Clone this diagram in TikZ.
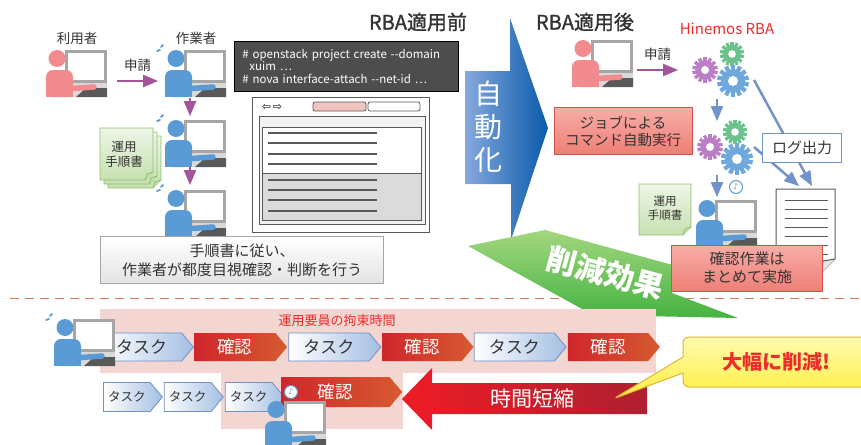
\documentclass[tikz,border=0pt]{standalone}
\usepackage{fontspec}
\setmainfont{Noto Sans CJK JP}
\newfontfamily\headfont[FakeBold=1.2]{Noto Sans CJK JP}
\newfontfamily\symfont{DejaVu Sans}
\usetikzlibrary{shapes.symbols, shapes.callouts, arrows, positioning}

\definecolor{inkgray}{HTML}{333333}
\definecolor{userpink}{HTML}{F28B8E}
\definecolor{staffblue}{HTML}{5B9BD5}
\definecolor{pcgray}{HTML}{A6A6A6}
\definecolor{deskgray}{HTML}{595959}
\definecolor{applyviolet}{HTML}{A3559A}
\definecolor{flowblue}{HTML}{7193C9}
\definecolor{boxred}{HTML}{D0534A}
\definecolor{salmon}{HTML}{F7ADA7}
\definecolor{salmondark}{HTML}{EE7F76}
\definecolor{memogreen}{HTML}{EEF6E6}
\definecolor{memogreendark}{HTML}{C6E0B1}
\definecolor{memoedge}{HTML}{8DC06F}
\definecolor{taskblue}{HTML}{A4BFE3}
\definecolor{taskedge}{HTML}{7092C7}
\definecolor{checkred}{HTML}{D0262B}
\definecolor{checkorange}{HTML}{D65A30}
\definecolor{holdpink}{HTML}{F3D5D1}
\definecolor{gearviolet}{HTML}{BA7FC4}
\definecolor{geargreen}{HTML}{6CC28C}
\definecolor{gearblue}{HTML}{6FA8DC}
\definecolor{cutgreen}{HTML}{45B342}
\definecolor{cutgreenlight}{HTML}{A3D67F}
\definecolor{autolight}{HTML}{85A9DC}
\definecolor{autodark}{HTML}{0A5AAC}
\definecolor{hinemosred}{HTML}{EE2C2C}
\definecolor{shortred}{HTML}{EE1C25}
\definecolor{shortdark}{HTML}{AE2030}
\definecolor{consolegray}{HTML}{4D4D4D}
\definecolor{tabpink}{HTML}{F2C4C0}
\definecolor{calloutedge}{HTML}{E0B43A}
\definecolor{calloutlight}{HTML}{FFFBB0}
\definecolor{calloutyellow}{HTML}{FFEE3A}
\definecolor{dashred}{HTML}{D9775F}

\tikzstyle{heading} = [font=\headfont\fontsize{20}{24}\selectfont]
\tikzstyle{caption} = [font=\fontsize{13.5}{16}\selectfont]
\tikzstyle{applyarrow} = [line width=2.5pt, draw=applyviolet, ->, >=triangle 45]
\tikzstyle{flowarrow} = [line width=2.5pt, draw=flowblue, ->, >=triangle 45]
\tikzstyle{redbox} = [rectangle, draw=boxred, line width=1pt, top color=salmon, bottom color=salmondark, align=center, font=\fontsize{14.5}{17}\selectfont]
\tikzstyle{task} = [signal, signal to=east, signal pointer angle=100, draw=taskedge, line width=0.8pt, left color=white, right color=taskblue, inner sep=0pt, minimum height=28pt, font=\fontsize{17}{17}\selectfont]
\tikzstyle{smalltask} = [task, minimum height=29pt, minimum width=59pt, font=\fontsize{12.5}{12.5}\selectfont]
\tikzstyle{check} = [signal, signal to=east, signal pointer angle=100, left color=checkred, right color=checkorange, text=white, inner sep=0pt, minimum height=28pt, font=\fontsize{17.5}{17.5}\selectfont]

\tikzset{
  pics/pcuser/.style={code={
    % monitor and desk
    \fill[pcgray] (19,0) rectangle (61,33);
    \fill[white] (22,3) rectangle (58,30);
    \fill[gray!30] (24,33) rectangle (61,47);
    \fill[deskgray] (40,38) -- (61,38) -- (61,47) -- (30,47) -- cycle;
    % person
    \fill[#1] (11,8.5) circle (8.5pt);
    \fill[#1, rounded corners=7pt] (0,20) rectangle (27,47);
    \fill[#1] (0,35) rectangle (27,47);
    \draw[#1, line width=5.5pt, line cap=round] (20,39) -- (48,37);
  }},
  pics/sweat/.style={code={
    \draw[staffblue, line width=1.8pt, line cap=round] (-8,1) -- (-5,0);
    \draw[staffblue, line width=1.8pt, line cap=round] (-4,-3) -- (-2,-5);
  }},
  pics/gear/.style={code={
    \fill[#1] (0,0) circle (9.5pt);
    \foreach \i in {0,...,13}
      \fill[#1, rotate=\i*360/14] (-1.7,8) rectangle (1.7,12.8);
    \fill[white] (0,0) circle (4pt);
  }},
  pics/tone/.style={code={
    \draw[staffblue, fill=white, line width=1pt] (0,0) circle (6.5pt);
    \node[text=staffblue, font=\symfont\fontsize{8}{8}\selectfont, inner sep=0pt] at (0,0) {♪};
  }}
}

\begin{document}
\begin{tikzpicture}[x=1pt, y=-1pt, every node/.style={text=inkgray}]
\useasboundingbox (0,0) rectangle (861,444);

% ---- before RBA
\node[heading] (before) at (418,22) {RBA適用前};
\node[caption] (requester) at (77,38) {利用者};
\node[caption] (operator) at (196,38) {作業者};
\pic at (46,50) {pcuser=userpink};
\pic at (165,50) {pcuser=staffblue};
\pic at (165,50) {sweat};
\pic at (165,120) {pcuser=staffblue};
\pic at (165,120) {sweat};
\pic at (165,190) {pcuser=staffblue};
\pic at (165,190) {sweat};

\coordinate (reqA) at (117,81);
\coordinate (reqB) at (158,81);
\coordinate (stepA) at (190,98);
\coordinate (stepB) at (190,116);
\coordinate (stepC) at (190,167);
\coordinate (stepD) at (190,185);
\draw[applyarrow] (reqA) -- node[above=5pt, caption] (reqlbl) {申請} (reqB);
\draw[applyarrow] (stepA) -- (stepB);
\draw[applyarrow] (stepC) -- (stepD);

% manual stack
\foreach \d in {8,4,0} {
  \draw[memoedge, line width=0.8pt, top color=memogreen, bottom color=memogreendark]
    (100+\d,128+\d) -- (153+\d,128+\d) -- (153+\d,172+\d) -- (145+\d,180+\d) -- (100+\d,180+\d) -- cycle;
  \draw[memoedge, line width=0.8pt, fill=memogreendark] (145+\d,180+\d) -- (147+\d,174+\d) -- (153+\d,172+\d);
}
\node[align=center, font=\fontsize{12.5}{15}\selectfont] (manualA) at (124,154) {運用\\手順書};

% console
\node[anchor=north west, fill=consolegray, draw=black, line width=0.8pt, minimum width=224pt, minimum height=50pt,
      text width=208pt, align=left, text=white, inner xsep=8pt, font=\fontsize{11.5}{12.5}\selectfont] (cmd) at (234,41)
  {\# openstack project create -{}-domain\\\hspace{7pt}xuim …\\\# nova interface-attach -{}-net-id …};

% browser window
\draw[deskgray, fill=white, line width=1pt] (252,97) rectangle (429,232);
\node[text=black, font=\symfont\fontsize{11}{11}\selectfont, inner sep=0pt] (navi) at (272,107) {⇦\,⇨};
\draw[deskgray, fill=tabpink, line width=0.8pt, rounded corners=2pt] (313,102) rectangle (366,111);
\draw[deskgray, fill=white, line width=0.8pt, rounded corners=2pt] (368,102) rectangle (420,111);
\draw[deskgray, fill=gray!10, line width=0.8pt] (259,116) rectangle (425,224);
\fill[white] (262,127) rectangle (421,173);
\fill[gray!28] (262,173) rectangle (421,220);
\draw[deskgray, line width=0.8pt] (262,127) rectangle (421,220) (262,173) -- (421,173);
\foreach \y in {133,143,154,164,180,190,200,211}
  \draw[deskgray, line width=1.2pt] (268,\y) -- (377,\y);

\node[draw=gray!70, line width=1pt, top color=white, bottom color=gray!22, minimum width=283pt, minimum height=47pt,
      align=center, font=\fontsize{15}{19}\selectfont] (routine) at (242,260) {手順書に従い、\\作業者が都度目視確認・判断を行う};

% ---- automation arrow
\shade[left color=autolight, right color=autodark]
  (465,71) -- (510,71) -- (510,18) -- (548,128) -- (511,240) -- (511,184) -- (465,184) -- cycle;
\node[text=white, align=center, font=\fontsize{28}{33}\selectfont] (auto) at (488,127) {自\\動\\化};

% ---- after RBA
\node[heading] (after) at (585,22) {RBA適用後};
\node[text=hinemosred, font=\fontsize{15}{18}\selectfont] (hinemos) at (727,29) {Hinemos RBA};
\pic at (572,40) {pcuser=userpink};
\coordinate (reqC) at (637,70);
\coordinate (reqD) at (678,70);
\draw[applyarrow] (reqC) -- node[above=5pt, caption] (reqlbl2) {申請} (reqD);

\pic at (705,70) {gear=gearviolet};
\pic[scale=0.95] at (732,54) {gear=geargreen};
\pic[scale=1.25] at (733,81) {gear=gearblue};
\pic at (710,147) {gear=gearviolet};
\pic[scale=0.95] at (735,132) {gear=geargreen};
\pic[scale=1.25] at (737,159) {gear=gearblue};

\coordinate (runA) at (717,99);
\coordinate (runB) at (717,121);
\coordinate (runC) at (717,175);
\coordinate (runD) at (717,197);
\coordinate (logA) at (754,80);
\coordinate (logB) at (812,186);
\coordinate (logC) at (754,147);
\coordinate (logD) at (799,186);
\draw[flowarrow] (runA) -- (runB);
\draw[flowarrow] (runC) -- (runD);
\draw[flowarrow] (logA) -- (logB);
\draw[flowarrow] (logC) -- (logD);

\node[draw=flowblue, fill=white, line width=1pt, minimum width=79pt, minimum height=29pt,
      font=\fontsize{15}{18}\selectfont] (log) at (802,148) {ログ出力};

\node[redbox, minimum width=138pt, minimum height=47pt] (jobs) at (623,131) {ジョブによる\\コマンド自動実行};

% log file
\draw[deskgray, fill=white, line width=1pt] (776,189) -- (835,189) -- (835,259) -- (821,273) -- (776,273) -- cycle;
\draw[deskgray, fill=gray!20, line width=1pt] (821,273) -- (823,261) -- (835,259);
\foreach \y in {200,209,218,227,236,245,254}
  \draw[deskgray, line width=1pt] (785,\y) -- (828,\y);

% manual
\draw[memoedge, line width=0.8pt, top color=memogreen, bottom color=memogreendark]
  (639,184) -- (691,184) -- (691,227) -- (683,235) -- (639,235) -- cycle;
\draw[memoedge, line width=0.8pt, fill=memogreendark] (683,235) -- (685,229) -- (691,227);
\node[align=center, font=\fontsize{11.5}{14}\selectfont] (manualB) at (665,208) {運用\\手順書};

\pic at (696,200) {pcuser=staffblue};
\pic at (736,187) {tone};

% ---- divider
\draw[dashred, line width=1pt, dash pattern=on 9pt off 6pt] (10,298) -- (861,298);

% reduction
\shade[top color=cutgreenlight, bottom color=cutgreen]
  (468,246) -- (545,230) -- (680,267) -- (672,293) -- (738,318) -- (593,315) -- cycle;
\node[rotate=-15, text=white, font=\bfseries\fontsize{30}{30}\selectfont] (cut) at (605,273) {削減効果};

\node[redbox, minimum width=151pt, minimum height=46pt, font=\fontsize{15}{18}\selectfont] (batch) at (747,268) {確認作業は\\まとめて実施};

% ---- time line
\fill[holdpink] (100,309) rectangle (656,373);
\fill[holdpink] (221,373) rectangle (403,429);
\node[text=hinemosred, font=\fontsize{13}{15}\selectfont] (hold) at (337,321) {運用要員の拘束時間};

\node[task, anchor=west, minimum width=92pt] (taskA) at (101,347) {タスク};
\node[check, right=0pt of taskA, minimum width=93pt] (checkA) {確認};
\node[task, right=1pt of checkA, minimum width=92pt] (taskB) {タスク};
\node[check, right=1pt of taskB, minimum width=91pt] (checkB) {確認};
\node[task, right=0pt of checkB, minimum width=92pt] (taskC) {タスク};
\node[check, right=1pt of taskC, minimum width=92pt] (checkC) {確認};
\pic at (54,319) {pcuser=staffblue};
\pic at (54,319) {sweat};

\node[smalltask, anchor=west] (quickA) at (103,397) {タスク};
\node[smalltask, right=1pt of quickA] (quickB) {タスク};
\node[smalltask, right=1pt of quickB] (quickC) {タスク};
\node[check, anchor=west, minimum width=121pt, minimum height=30pt] (checkD) at (281,392) {確認};
\pic at (265,401) {pcuser=staffblue};
\pic at (291,392) {tone};

% shortening arrow
\shade[left color=shortred, right color=shortdark]
  (402,399) -- (432,368) -- (432,383) -- (647,383) -- (647,414) -- (432,414) -- (432,430) -- cycle;
\node[text=white, font=\fontsize{21}{21}\selectfont] (shorter) at (532,399) {時間短縮};

\node[rectangle callout, callout absolute pointer={(613,399)}, callout pointer width=16pt, rounded corners=6pt,
      draw=calloutedge, line width=1pt, top color=calloutlight, bottom color=calloutyellow,
      minimum width=186pt, minimum height=50pt, text=hinemosred, font=\bfseries\fontsize{20}{24}\selectfont]
  (gain) at (776,362) {大幅に削減!};
\end{tikzpicture}
\end{document}
